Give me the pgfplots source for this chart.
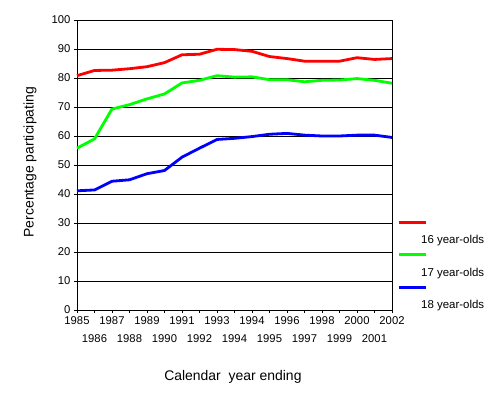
\documentclass[border=0pt]{standalone}
\usepackage{pgfplots}
\pgfplotsset{compat=1.18}
\usepackage{fontspec}
\setmainfont{Liberation Sans}
\definecolor{cred}{RGB}{255,0,0}
\definecolor{cgreen}{RGB}{0,255,0}
\definecolor{cblue}{RGB}{0,0,255}
\begin{document}
\begin{tikzpicture}
\begin{axis}[
  scale only axis,
  width=315bp, height=290bp,
  at={(0,0)}, anchor=south west,
  xmin=0, xmax=18, ymin=0, ymax=100,
  ytick={0,10,...,100},
  xtick={0,2,...,18},
  xticklabels={1985,1987,1989,1991,1993,1994,1996,1998,2000,2002},
  extra x ticks={1,3,...,17},
  extra x tick labels={1986,1988,1990,1992,1994,1995,1997,1999,2001},
  extra x tick style={xticklabel style={yshift=-18bp}},
  tick align=outside,
  major tick length=3bp,
  tick style={black, line width=0.8bp},
  xtick pos=bottom, ytick pos=left,
  ymajorgrids,
  major grid style={black, line width=0.8bp},
  axis line style={black, line width=0.8bp},
  /pgf/number format/assume math mode=true,
  ticklabel style={font=\fontsize{11.3}{13}\selectfont},
  xlabel={Calendar\ \ year ending},
  ylabel={Percentage participating},
  label style={font=\fontsize{14}{16}\selectfont},
  xlabel style={at={(axis description cs:0.495,-0.231)}, anchor=center},
  ylabel style={at={(axis description cs:-0.149,0.51)}, anchor=center},
  legend image code/.code={\draw[#1,overlay] (0bp,19bp) -- (27bp,19bp); \path[draw=none,fill=none] (0bp,0bp) -- (22bp,0bp);},
  legend style={draw=none, fill=none, at={(axis description cs:1.0222,0.2569)}, anchor=north west,
    inner sep=0pt, column sep=0pt, row sep=21.5bp, cells={anchor=west},
    nodes={inner sep=0pt, text height=8bp, text depth=3bp, font=\fontsize{11.5}{13}\selectfont}},
  clip=false,
]
\addplot[cred, line width=2.8bp] coordinates {
(0,80.8) (1,82.6) (2,82.7) (3,83.2) (4,83.9) (5,85.3) (6,88.0) (7,88.2) (8,89.9) (9,89.8)
(10,89.2) (11,87.4) (12,86.7) (13,85.8) (14,85.8) (15,85.8) (16,87.0) (17,86.4) (18,86.7)};
\addlegendentry{16 year-olds}
\addplot[cgreen, line width=2.8bp] coordinates {
(0,55.8) (1,59.0) (2,69.3) (3,70.8) (4,72.8) (5,74.5) (6,78.3) (7,79.2) (8,80.8) (9,80.3)
(10,80.4) (11,79.4) (12,79.4) (13,78.7) (14,79.2) (15,79.3) (16,79.8) (17,79.2) (18,78.2)};
\addlegendentry{17 year-olds}
\addplot[cblue, line width=2.8bp] coordinates {
(0,41.1) (1,41.4) (2,44.4) (3,44.9) (4,47.0) (5,48.1) (6,52.7) (7,55.8) (8,58.8) (9,59.2)
(10,59.8) (11,60.6) (12,60.9) (13,60.3) (14,60.0) (15,60.0) (16,60.3) (17,60.3) (18,59.5)};
\addlegendentry{18 year-olds}
\end{axis}
\path (-77bp,-87bp) rectangle (411bp,310bp);
\end{tikzpicture}
\end{document}
